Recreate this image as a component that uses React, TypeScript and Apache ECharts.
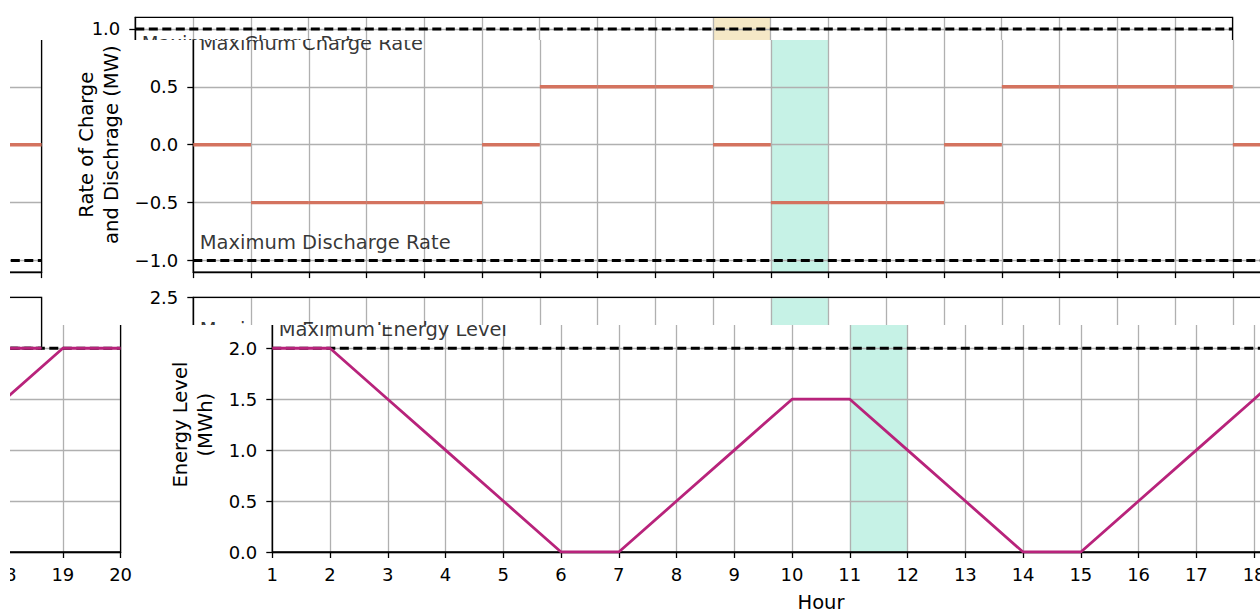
import React, { useEffect, useRef } from "react";
import * as echarts from "echarts";

// ---------------- data ----------------
const hours = [1, 2, 3, 4, 5, 6, 7, 8, 9, 10, 11, 12, 13, 14, 15, 16, 17, 18, 19, 20];
// rate of charge (+) / discharge (-) during hour h -> h+1 (h = 1..19)
const chargeRate = [0, -0.5, -0.5, -0.5, -0.5, 0, 0.5, 0.5, 0.5, 0, -0.5, -0.5, -0.5, 0, 0.5, 0.5, 0.5, 0.5, 0];
// energy level at each hour
const energyLevel = [2.0, 2.0, 1.5, 1.0, 0.5, 0.0, 0.0, 0.5, 1.0, 1.5, 1.5, 1.0, 0.5, 0.0, 0.0, 0.5, 1.0, 1.5, 2.0, 2.0];
const maxChargeRate = 1.0;
const maxDischargeRate = -1.0;
const maxEnergyLevel = 2.0;
const highlightHours = [11, 12];
const rateTicks = [-1.0, -0.5, 0.0, 0.5, 1.0];
const energyTicks = [0.0, 0.5, 1.0, 1.5, 2.0, 2.5];

// ---------------- style ----------------
const FONT = "DejaVu Sans";
const RATE_COLOR = "#d4735f";
const ENERGY_COLOR = "#b8237b";
const TEAL = "#c6f2e6";
const BEIGE = "#f5e8c6";
const GRID_COLOR = "#b0b0b0";
const VW = 1320;
const VH = 640;
const AX_LEFT = 193.3;
const AX_WIDTH = 1097.3;
const TICK_FS = 18;
const NAME_FS = 19.5;

const fmt = (v: number) => (v < 0 ? "\u2212" : "") + Math.abs(v).toFixed(1);

function xAxisCfg(gridIndex: number, showLabels: boolean) {
  return {
    type: "value",
    gridIndex,
    min: hours[0],
    max: hours[hours.length - 1],
    interval: 1,
    z: 2,
    axisLine: { show: true, onZero: false, lineStyle: { color: "#000", width: 1.3 } },
    axisTick: { show: true, length: 6, lineStyle: { color: "#000", width: 1.3 } },
    axisLabel: {
      show: showLabels,
      margin: 13,
      fontSize: TICK_FS,
      color: "#000",
      fontFamily: FONT,
    },
    splitLine: { show: true, lineStyle: { color: GRID_COLOR, width: 1.3 } },
    name: showLabels ? "Hour" : "",
    nameLocation: "middle",
    nameGap: 40,
    nameTextStyle: { fontSize: NAME_FS, color: "#000", fontFamily: FONT },
  };
}

function buildOption(bandColor: string) {
  const bandSeries = (idx: number) => ({
    type: "custom",
    xAxisIndex: idx,
    yAxisIndex: idx,
    z: 1,
    silent: true,
    encode: { x: [0, 1] },
    data: [[highlightHours[0], highlightHours[1]]],
    renderItem: (params: any, api: any) => {
      const a = api.coord([api.value(0), 0]);
      const b = api.coord([api.value(1), 0]);
      const cs = params.coordSys;
      return {
        type: "rect",
        shape: { x: a[0], y: cs.y, width: b[0] - a[0], height: cs.height },
        style: { fill: bandColor },
      };
    },
  });

  const dashed = (idx: number, level: number) => ({
    type: "line",
    xAxisIndex: idx,
    yAxisIndex: idx,
    z: 4,
    silent: true,
    symbol: "none",
    data: [
      [hours[0], level],
      [hours[hours.length - 1], level],
    ],
    lineStyle: { color: "#000", width: 3, type: [9, 4.5] },
  });

  const note = (idx: number, level: number, text: string, offY: number) => ({
    type: "scatter",
    xAxisIndex: idx,
    yAxisIndex: idx,
    z: 6,
    silent: true,
    symbolSize: 1,
    itemStyle: { color: "rgba(0,0,0,0)" },
    data: [[hours[0], level]],
    label: {
      show: true,
      formatter: text,
      position: [7, offY],
      align: "left",
      verticalAlign: "middle",
      fontSize: 19.5,
      color: "#000",
      fontFamily: FONT,
    },
  });

  const gridBase = {
    left: AX_LEFT,
    width: AX_WIDTH,
    show: true,
    z: 3,
    borderColor: "#000",
    borderWidth: 1.3,
    backgroundColor: "transparent",
    containLabel: false,
    outerBoundsMode: "none",
  };

  return {
    animation: false,
    textStyle: { fontFamily: FONT },
    grid: [
      { ...gridBase, top: 17.3, height: 254.8 },
      { ...gridBase, top: 297.3, height: 254.7 },
    ],
    xAxis: [xAxisCfg(0, false), xAxisCfg(1, true)],
    yAxis: [
      {
        type: "value",
        gridIndex: 0,
        min: -1.1,
        max: 1.1,
        z: 2,
        axisLine: { show: true, onZero: false, lineStyle: { color: "#000", width: 1.3 } },
        axisTick: { show: true, length: 6, customValues: rateTicks, lineStyle: { color: "#000", width: 1.3 } },
        axisLabel: {
          customValues: rateTicks,
          formatter: (v: number) => fmt(v),
          margin: 15,
          fontSize: TICK_FS,
          color: "#000",
          fontFamily: FONT,
        },
        splitLine: { show: true, lineStyle: { color: GRID_COLOR, width: 1.3 } },
        name: "Rate of Charge\nand Dischrage (MW)",
        nameLocation: "middle",
        nameRotate: 90,
        nameGap: 66,
        nameTextStyle: { fontSize: NAME_FS, lineHeight: 25, color: "#000", fontFamily: FONT, align: "center" },
      },
      {
        type: "value",
        gridIndex: 1,
        min: energyTicks[0],
        max: energyTicks[energyTicks.length - 1],
        interval: 0.5,
        z: 2,
        axisLine: { show: true, onZero: false, lineStyle: { color: "#000", width: 1.3 } },
        axisTick: { show: true, length: 6, lineStyle: { color: "#000", width: 1.3 } },
        axisLabel: {
          formatter: (v: number) => fmt(v),
          margin: 15,
          fontSize: TICK_FS,
          color: "#000",
          fontFamily: FONT,
        },
        splitLine: { show: true, lineStyle: { color: GRID_COLOR, width: 1.3 } },
        name: "Energy Level\n(MWh)",
        nameLocation: "middle",
        nameRotate: 90,
        nameGap: 48,
        nameTextStyle: { fontSize: NAME_FS, lineHeight: 25, color: "#000", fontFamily: FONT, align: "center" },
      },
    ],
    series: [
      bandSeries(0),
      bandSeries(1),
      dashed(0, maxChargeRate),
      dashed(0, maxDischargeRate),
      dashed(1, maxEnergyLevel),
      {
        type: "custom",
        xAxisIndex: 0,
        yAxisIndex: 0,
        z: 5,
        silent: true,
        encode: { x: 0, y: 1 },
        data: chargeRate.map((r, i) => [hours[i], r]),
        renderItem: (params: any, api: any) => {
          const h = api.value(0);
          const r = api.value(1);
          const a = api.coord([h, r]);
          const b = api.coord([h + 1, r]);
          return {
            type: "line",
            shape: { x1: a[0], y1: a[1], x2: b[0], y2: b[1] },
            style: { stroke: RATE_COLOR, lineWidth: 3.4 },
          };
        },
      },
      {
        type: "line",
        xAxisIndex: 1,
        yAxisIndex: 1,
        z: 5,
        silent: true,
        symbol: "none",
        data: hours.map((h, i) => [h, energyLevel[i]]),
        lineStyle: { color: ENERGY_COLOR, width: 2.8 },
      },
      note(0, maxChargeRate, "Maximum Charge Rate", 15.6),
      note(0, maxDischargeRate, "Maximum Discharge Rate", -18),
      note(1, maxEnergyLevel, "Maximum Energy Level", -18),
    ],
  };
}

type TileProps = { x: number; y: number; w: number; h: number; dx: number; band: string };

function Tile({ x, y, w, h, dx, band }: TileProps) {
  const ref = useRef<HTMLDivElement>(null);
  useEffect(() => {
    if (!ref.current) return;
    const chart = echarts.init(ref.current, null, { renderer: "svg" });
    chart.setOption(buildOption(band) as any);
    return () => chart.dispose();
  }, [band]);
  return (
    <div style={{ position: "absolute", left: x, top: y, width: w, height: h, overflow: "hidden" }}>
      <div ref={ref} style={{ position: "absolute", left: dx - x, top: -y, width: VW, height: VH }} />
    </div>
  );
}

const WRAP = 1248.6;
const tiles: TileProps[] = [
  { x: 0, y: 0, w: 1260, h: 40, dx: -58.3, band: BEIGE },
  { x: 44, y: 40, w: 1216, h: 250, dx: 0, band: TEAL },
  { x: 10, y: 40, w: 34, h: 250, dx: -WRAP, band: TEAL },
  { x: 44, y: 290, w: 1216, h: 35, dx: 0, band: TEAL },
  { x: 10, y: 325, w: 124, h: 285, dx: 79 - WRAP, band: TEAL },
  { x: 134, y: 325, w: 1126, h: 285, dx: 79, band: TEAL },
  { x: 10, y: 290, w: 34, h: 60, dx: -WRAP, band: TEAL },
];

export default function App() {
  return (
    <div
      style={{
        position: "fixed",
        left: 0,
        top: 0,
        width: 1260,
        height: 610,
        overflow: "hidden",
        background: "#fff",
      }}
    >
      {tiles.map((t, i) => (
        <Tile key={i} {...t} />
      ))}
    </div>
  );
}
